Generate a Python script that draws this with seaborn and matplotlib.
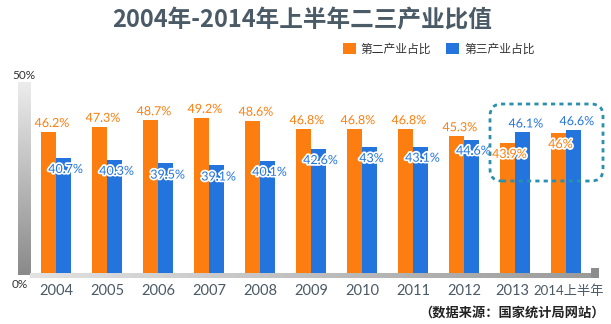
import numpy as np
import pandas as pd
import matplotlib
matplotlib.use("Agg")
import matplotlib.pyplot as plt
import seaborn as sns
from matplotlib.patches import FancyBboxPatch, Rectangle
from matplotlib.transforms import IdentityTransform
import matplotlib.patheffects as pe

# ---- data ----
years = ["2004", "2005", "2006", "2007", "2008", "2009", "2010", "2011", "2012", "2013", "2014上半年"]
secondary = [46.2, 47.3, 48.7, 49.2, 48.6, 46.8, 46.8, 46.8, 45.3, 43.9, 46.0]
tertiary = [40.7, 40.3, 39.5, 39.1, 40.1, 42.6, 43.0, 43.1, 44.6, 46.1, 46.6]
series_names = ["第二产业占比", "第三产业占比"]
title = "2004年-2014年上半年二三产业比值"
source = "（数据来源：国家统计局网站）"

df = pd.DataFrame({
    "year": years * 2,
    "value": secondary + tertiary,
    "series": [series_names[0]] * len(years) + [series_names[1]] * len(years),
})

ORANGE = "#FC7E10"
BLUE = "#2474DD"
TEXTC = "#4a5a66"

sns.set_theme(style="white")
plt.rcParams["font.family"] = ["Lato", "Noto Sans CJK SC", "DejaVu Sans"]

fig = plt.figure(figsize=(6.11, 3.24), dpi=100)
W, H = 611, 324
ax = fig.add_axes([30 / W, 1 - 273 / H, 569 / W, 188 / H])

sns.barplot(data=df, x="year", y="value", hue="series", palette=[ORANGE, BLUE],
            width=0.59, gap=0, saturation=1, edgecolor="none", linewidth=0, ax=ax)

ax.set_xlim(-0.51, 10.65)
ax.set_ylim(16.2, 56.2)
ax.set_yticks([])
ax.set_xlabel("")
ax.set_ylabel("")
for s in ax.spines.values():
    s.set_visible(False)
ax.tick_params(axis="x", length=0, pad=8, labelsize=10.5, labelcolor=TEXTC)
xt = ax.get_xticklabels()
for lbl in xt:
    lbl.set_fontfamily(["Lato", "Noto Sans CJK SC"])
xt[-1].set_fontsize(9.5)
xt[-1].set_x(xt[-1].get_position()[0])
ax.set_xticks(ax.get_xticks())
ax.set_xticklabels([t.get_text() for t in xt])
for i, lbl in enumerate(ax.get_xticklabels()):
    lbl.set_fontfamily(["Lato", "Noto Sans CJK SC"])
    if i == len(years) - 1:
        lbl.set_fontsize(9.5)
        lbl.set_ha("center")
        lbl.set_transform(lbl.get_transform() + matplotlib.transforms.ScaledTranslation(3 / 100, 0, fig.dpi_scale_trans))
    elif i == len(years) - 2:
        lbl.set_transform(lbl.get_transform() + matplotlib.transforms.ScaledTranslation(-3 / 100, 0, fig.dpi_scale_trans))

# value labels
conts = ax.containers
pairs = list(zip(conts[0], conts[1]))
stroke = [pe.withStroke(linewidth=2.5, foreground="white")]
for (bo, bb), vo, vb in zip(pairs, secondary, tertiary):
    for bar, v, other, col in ((bo, vo, vb, ORANGE), (bb, vb, vo, BLUE)):
        xc = bar.get_x() + bar.get_width() / 2
        top = bar.get_height()
        txt = f"{v:g}%"
        if v >= other:
            ax.annotate(txt, (xc, top), xytext=(2.5, 6.5), textcoords="offset points",
                        ha="center", va="center", color=col, fontsize=9, path_effects=stroke)
        else:
            ax.annotate(txt, (xc, top), xytext=(1.5, -8), textcoords="offset points",
                        ha="center", va="center", color=col, fontsize=9, path_effects=stroke)

# legend
handles, labels = ax.get_legend_handles_labels()
ax.legend(handles, labels, loc="center left", bbox_to_anchor=(337 / W, 1 - 49 / H),
          bbox_transform=fig.transFigure, ncol=2, frameon=False, borderpad=0,
          handlelength=1.1, handleheight=1.0, handletextpad=0.4, columnspacing=1.3,
          prop={"family": "Noto Sans CJK SC", "size": 8.5}, labelcolor="#333333")

# title
fig.text(302 / W, 1 - 20 / H, title, ha="center", va="center", fontsize=17,
         fontweight="bold", color=TEXTC, family=["Noto Sans CJK SC", "DejaVu Sans"])

# axis decorations: gradient bars
vax = fig.add_axes([18 / W, 1 - 275 / H, 12 / W, 193 / H])
vgrad = np.linspace(0, 1, 200).reshape(-1, 1)
vax.imshow(vgrad, aspect="auto", cmap=matplotlib.colors.LinearSegmentedColormap.from_list(
    "g", ["#ececec", "#8a8a8a"]), extent=[0, 1, 1, 0])
vax.axis("off")
hax = fig.add_axes([30 / W, 1 - 278 / H, 569 / W, 5 / H])
hgrad = np.linspace(0, 1, 300).reshape(1, -1)
hax.imshow(hgrad, aspect="auto", cmap=matplotlib.colors.LinearSegmentedColormap.from_list(
    "h", ["#e2e2e2", "#9a9a9a"]))
hax.axis("off")
fig.patches.append(Rectangle((591, H - 278), 8, 10, transform=IdentityTransform(),
                             facecolor="#8c8c8c", edgecolor="none"))

fig.text(12 / W, 1 - 76 / H, "50%", ha="left", va="center", fontsize=8.5, color="#333333")
fig.text(12 / W, 1 - 284 / H, "0%", ha="left", va="center", fontsize=8.5, color="#333333")

# highlight box
box = FancyBboxPatch((490, H - 181), 113, 77, boxstyle="round,pad=0,rounding_size=12",
                     transform=IdentityTransform(), fill=False, edgecolor="#2b8fae",
                     linewidth=2, linestyle=(0, (1.5, 1.5)))
fig.patches.append(box)

fig.text(605 / W, 1 - 313 / H, source, ha="right", va="center", fontsize=9.5,
         fontweight="bold", color="#222222", family=["Noto Sans CJK SC", "DejaVu Sans"])

fig.savefig("out.png", dpi=100)
